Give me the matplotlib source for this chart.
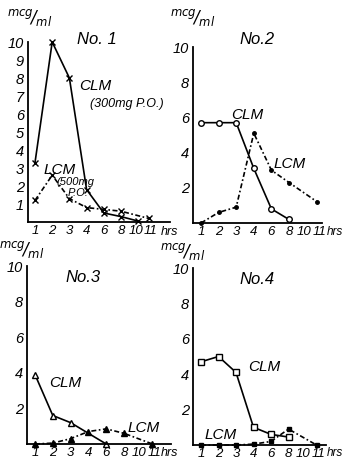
import matplotlib
matplotlib.use("Agg")
import matplotlib.pyplot as plt
from matplotlib.transforms import ScaledTranslation

plt.rcParams['font.family'] = ['Liberation Sans', 'DejaVu Sans']
plt.rcParams['font.style'] = 'italic'
plt.rcParams['mathtext.fontset'] = 'dejavusans'

# sampling hours and where each sits on the (uneven) time axis
hour_ticks = [1, 2, 3, 4, 6, 8, 10, 11]
hour_pos = {1: 0, 2: 1, 3: 2, 4: 3, 6: 4, 8: 5, 10: 6, 11: 6.6}

# No.1
p1_clm_h = [1, 2, 3, 4, 6, 8, 10]
p1_clm = [3.3, 10.0, 8.0, 1.8, 0.5, 0.3, 0.05]
p1_lcm_h = [1, 2, 3, 4, 6, 8, 11]
p1_lcm = [1.2, 2.6, 1.3, 0.8, 0.7, 0.6, 0.2]
# No.2
p2_clm_h = [1, 2, 3, 4, 6, 8]
p2_clm = [5.7, 5.7, 5.7, 3.1, 0.8, 0.2]
p2_lcm_h = [1, 2, 3, 4, 6, 8, 11]
p2_lcm = [0.0, 0.6, 0.9, 5.1, 3.0, 2.3, 1.2]
# No.3
p3_clm_h = [1, 2, 3, 6]
p3_clm = [3.9, 1.6, 1.2, 0.0]
p3_lcm_h = [1, 2, 3, 4, 6, 8, 11]
p3_lcm = [0.0, 0.05, 0.3, 0.7, 0.85, 0.6, 0.0]
# No.4
p4_clm_h = [1, 2, 3, 4, 6, 8]
p4_clm = [4.7, 5.0, 4.1, 1.0, 0.6, 0.45]
p4_lcm_h = [1, 2, 3, 4, 6, 8, 11]
p4_lcm = [0.0, 0.0, 0.0, 0.05, 0.2, 0.9, 0.0]

W, H = 342, 467
fig = plt.figure(figsize=(W / 100, H / 100), dpi=100)
fig.patch.set_facecolor('white')


def panel(left, right, y0, y10, pos0, sp, yticks):
    ax = fig.add_axes([left / W, (H - y0) / H, (right - left) / W, (y0 - y10) / H])
    ax.set_xlim((left - pos0) / sp, (right - pos0) / sp)
    ax.set_ylim(0, 10)
    for s in ['top', 'right']:
        ax.spines[s].set_visible(False)
    for s in ['left', 'bottom']:
        ax.spines[s].set_linewidth(1.3)
    ax.set_xticks([hour_pos[h] for h in hour_ticks])
    ax.set_xticklabels([str(h) for h in hour_ticks], fontsize=9.5)
    ax.set_yticks(yticks)
    ax.set_yticklabels([str(v) for v in yticks], fontsize=10.5)
    ax.tick_params(length=0, pad=3)
    ax.tick_params(axis='x', pad=2)
    # the "10" and "11" labels are squeezed together on the hand-drawn axis
    labs = ax.get_xticklabels()
    labs[-2].set_transform(labs[-2].get_transform() + ScaledTranslation(-2.5 / 100, 0, fig.dpi_scale_trans))
    labs[-1].set_transform(labs[-1].get_transform() + ScaledTranslation(2 / 100, 0, fig.dpi_scale_trans))
    ax.patch.set_alpha(0)
    return ax


def series(ax, hours, vals, marker, ls, filled, ms):
    xs = [hour_pos[h] for h in hours]
    ax.plot(xs, vals, color='black', lw=1.2, ls=ls, marker=marker, ms=ms,
            mfc='black' if filled else 'white', mec='black', mew=1.0, clip_on=False)


dashdot = (0, (3, 1.5, 1, 1.5))
unit = r'$^{mcg}\!/_{ml}$'

ax1 = panel(28, 170, 222, 42, 35, 17.2, list(range(1, 11)))
series(ax1, p1_clm_h, p1_clm, 'x', '-', False, 4)
series(ax1, p1_lcm_h, p1_lcm, 'x', dashdot, False, 4)
fig.text(97 / W, 1 - 39 / H, 'No. 1', fontsize=12, ha='center', va='center')
fig.text(79 / W, 1 - 86 / H, 'CLM', fontsize=11, ha='left', va='center')
fig.text(90 / W, 1 - 104 / H, '(300mg P.O.)', fontsize=9, ha='left', va='center')
fig.text(44 / W, 1 - 170 / H, 'LCM', fontsize=11, ha='left', va='center')
fig.text(56 / W, 1 - 182 / H, '(500mg', fontsize=8, ha='left', va='center')
fig.text(68 / W, 1 - 193 / H, 'P.O.', fontsize=8, ha='left', va='center')
fig.text(30 / W, 1 - 17 / H, unit, fontsize=12, ha='center', va='center')
fig.text(161 / W, 1 - 232 / H, 'hrs', fontsize=9, ha='left', va='center')

ax2 = panel(193, 322, 223, 47, 201, 17.6, [2, 4, 6, 8, 10])
series(ax2, p2_clm_h, p2_clm, 'o', '-', False, 4)
series(ax2, p2_lcm_h, p2_lcm, 'o', dashdot, True, 2.5)
fig.text(257 / W, 1 - 40 / H, 'No.2', fontsize=12, ha='center', va='center')
fig.text(231 / W, 1 - 115 / H, 'CLM', fontsize=11, ha='left', va='center')
fig.text(274 / W, 1 - 164 / H, 'LCM', fontsize=11, ha='left', va='center')
fig.text(193 / W, 1 - 17 / H, unit, fontsize=12, ha='center', va='center')
fig.text(327 / W, 1 - 232 / H, 'hrs', fontsize=8.5, ha='left', va='center')

ax3 = panel(27, 171, 444, 266, 35, 17.8, [2, 4, 6, 8, 10])
series(ax3, p3_clm_h, p3_clm, '^', '-', False, 5)
series(ax3, p3_lcm_h, p3_lcm, '^', dashdot, True, 4)
fig.text(83 / W, 1 - 278 / H, 'No.3', fontsize=12, ha='center', va='center')
fig.text(49 / W, 1 - 383 / H, 'CLM', fontsize=11, ha='left', va='center')
fig.text(128 / W, 1 - 428 / H, 'LCM', fontsize=11, ha='left', va='center')
fig.text(22 / W, 1 - 250 / H, unit, fontsize=12, ha='center', va='center')
fig.text(161 / W, 1 - 453 / H, 'hrs', fontsize=9, ha='left', va='center')

ax4 = panel(193, 326, 445, 268, 201, 17.5, [2, 4, 6, 8, 10])
series(ax4, p4_clm_h, p4_clm, 's', '-', False, 4)
series(ax4, p4_lcm_h, p4_lcm, 's', dashdot, True, 3)
fig.text(257 / W, 1 - 279 / H, 'No.4', fontsize=12, ha='center', va='center')
fig.text(248 / W, 1 - 367 / H, 'CLM', fontsize=11, ha='left', va='center')
fig.text(205 / W, 1 - 435 / H, 'LCM', fontsize=11, ha='left', va='center')
fig.text(183 / W, 1 - 251 / H, unit, fontsize=12, ha='center', va='center')
fig.text(327 / W, 1 - 453 / H, 'hrs', fontsize=8.5, ha='left', va='center')

fig.savefig('out.png', dpi=100, facecolor='white')
